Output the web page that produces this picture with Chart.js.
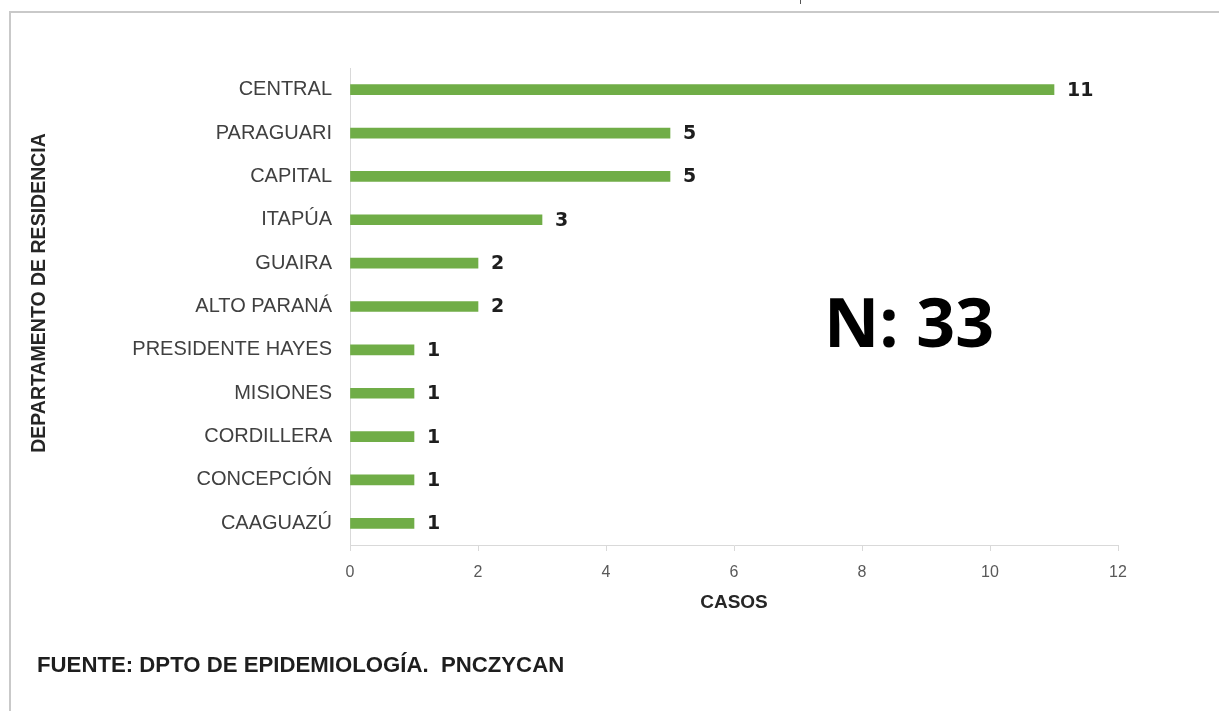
<!DOCTYPE html>
<html>
<head>
<meta charset="utf-8">
<script src="https://cdn.jsdelivr.net/npm/chart.js@4.4.1/dist/chart.umd.min.js"></script>
<style>
  html, body { margin: 0; padding: 0; background: #ffffff; }
  body { width: 1219px; height: 711px; position: relative; overflow: hidden; }
  #frame { position: absolute; left: 9px; top: 11px; width: 1230px; height: 720px;
           border-left: 2px solid #c9c9c9; border-top: 2px solid #c9c9c9; }
  #mark { position: absolute; left: 800px; top: 0; width: 1px; height: 4px; background: #555; }
  #wrap { position: absolute; left: 0; top: 0; width: 1219px; height: 711px; }
  #source { position: absolute; left: 37px; top: 654px; font: bold 22.2px "Liberation Sans", Arial, sans-serif;
            line-height: 1; color: #1e1e1e; white-space: pre; }
</style>
</head>
<body>
<div id="frame"></div>
<div id="mark"></div>
<div id="wrap"><canvas id="c" width="1219" height="711"></canvas></div>
<div id="source">FUENTE: DPTO DE EPIDEMIOLOGÍA.  PNCZYCAN</div>
<script>
const categories = ["CENTRAL", "PARAGUARI", "CAPITAL", "ITAPÚA", "GUAIRA", "ALTO PARANÁ",
                    "PRESIDENTE HAYES", "MISIONES", "CORDILLERA", "CONCEPCIÓN", "CAAGUAZÚ"];
const casos = [11, 5, 5, 3, 2, 2, 1, 1, 1, 1, 1];
const xTicks = [0, 2, 4, 6, 8, 10, 12];
const totalLabel = "N: 33";
const xTitle = "CASOS";
const yTitle = "DEPARTAMENTO DE RESIDENCIA";

const valueLabels = {
  id: 'valueLabels',
  afterDatasetsDraw(chart) {
    const ctx = chart.ctx;
    const meta = chart.getDatasetMeta(0);
    ctx.save();
    ctx.font = 'bold 19px "DejaVu Sans", sans-serif';
    ctx.fillStyle = '#1e1e1e';
    ctx.textAlign = 'left';
    ctx.textBaseline = 'middle';
    meta.data.forEach((bar, i) => {
      ctx.fillText(String(chart.data.datasets[0].data[i]), bar.x + 13, bar.y + 1);
    });
    ctx.restore();
  }
};

const extraText = {
  id: 'extraText',
  afterDraw(chart) {
    const ctx = chart.ctx;
    ctx.save();
    ctx.font = 'bold 68px "Open Sans", sans-serif';
    ctx.fillStyle = '#000000';
    ctx.textAlign = 'left';
    ctx.textBaseline = 'alphabetic';
    ctx.fillText(totalLabel, 824, 347);
    ctx.restore();

    ctx.save();
    ctx.translate(40, 293);
    ctx.rotate(-Math.PI / 2);
    ctx.font = 'bold 19.5px "Liberation Sans", Arial, sans-serif';
    ctx.fillStyle = '#262626';
    ctx.textAlign = 'center';
    ctx.textBaseline = 'middle';
    ctx.fillText(yTitle, 0, 0);
    ctx.restore();
  }
};

new Chart(document.getElementById('c'), {
  type: 'bar',
  data: {
    labels: categories,
    datasets: [{
      data: casos,
      backgroundColor: '#70AD47',
      borderWidth: 0,
      barThickness: 10
    }]
  },
  options: {
    indexAxis: 'y',
    responsive: false,
    animation: false,
    devicePixelRatio: 1,
    layout: { padding: { left: 0, top: 68, right: 101, bottom: 86 } },
    plugins: { legend: { display: false }, tooltip: { enabled: false } },
    scales: {
      x: {
        min: 0, max: 12,
        afterBuildTicks(scale) { scale.ticks = xTicks.map(v => ({ value: v })); },
        afterFit(scale) { scale.height = 80; },
        grid: { drawOnChartArea: false, drawTicks: true, tickLength: 6, tickColor: '#d9d9d9' },
        border: { display: true, color: '#d9d9d9', width: 1 },
        ticks: { padding: 12, color: '#595959', font: { family: '"Liberation Sans", Arial, sans-serif', size: 16 } },
        title: { display: true, text: xTitle, color: '#262626', padding: { top: 0, bottom: 11 },
                 font: { family: '"Liberation Sans", Arial, sans-serif', size: 19, weight: 'bold' } }
      },
      y: {
        afterFit(scale) { scale.width = 350; },
        grid: { display: true, drawOnChartArea: false, drawTicks: false },
        border: { display: true, color: '#d9d9d9', width: 1 },
        ticks: { padding: 18, color: '#404040', font: { family: '"Liberation Sans", Arial, sans-serif', size: 20 } },
        title: { display: false, text: yTitle }
      }
    }
  },
  plugins: [valueLabels, extraText]
});
</script>
</body>
</html>
